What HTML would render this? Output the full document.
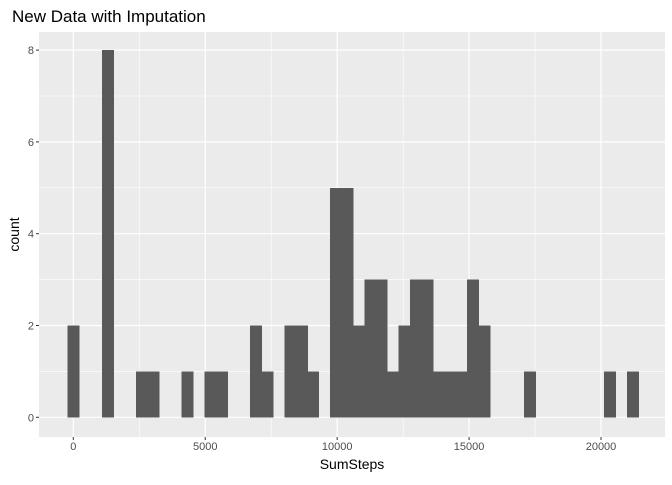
<!DOCTYPE html>
<html><head><meta charset="utf-8"><style>
body{margin:0;background:#fff;font-family:"Liberation Sans",Arial,sans-serif}
</style></head><body>
<svg id="c" width="672" height="480" xmlns="http://www.w3.org/2000/svg"></svg>
<script>
const binWidth = 432.5;
const binIndex = [0,3,6,7,10,12,13,16,17,19,20,21,23,24,25,26,27,28,29,30,31,32,33,34,35,36,40,47,49];
const counts   = [2,8,1,1,1,1,1,2,1,2,2,1,5,5,2,3,3,1,2,3,3,1,1,1,3,2,1,1,1];
const xTicks = [0,5000,10000,15000,20000];
const xTickLabels = ["0","5000","10000","15000","20000"];
const yTicks = [0,2,4,6,8];
const yTickLabels = ["0","2","4","6","8"];

const NS="http://www.w3.org/2000/svg", svg=document.getElementById('c');
const L=39,R=665,T=32,B=437;
const X=v=>73.3+v*0.026385;
const Y=v=>417.3-v*45.9;
function el(t,a,p){const e=document.createElementNS(NS,t);for(const k in a)e.setAttribute(k,a[k]);(p||svg).appendChild(e);return e;}
const panel=el('rect',{x:L,y:T,width:R-L,height:B-T,fill:'#ebebeb'});


const g=el('g',{});


for(let i=0;i<xTicks.length;i++){
  const m=xTicks[i]+2500;if(X(m)<R)el('line',{x1:X(m),x2:X(m),y1:T,y2:B,stroke:'#fff','stroke-width':0.6},g);
  el('line',{x1:X(xTicks[i]),x2:X(xTicks[i]),y1:T,y2:B,stroke:'#fff','stroke-width':1.2},g);
}
for(let i=0;i<yTicks.length;i++){
  const m=yTicks[i]+1; if(Y(m)>T)el('line',{x1:L,x2:R,y1:Y(m),y2:Y(m),stroke:'#fff','stroke-width':0.6},g);
  el('line',{x1:L,x2:R,y1:Y(yTicks[i]),y2:Y(yTicks[i]),stroke:'#fff','stroke-width':1.2},g);
}
const bars=el('g',{fill:'#595959','shape-rendering':'crispEdges'});


for(let i=0;i<binIndex.length;i++){
  const c=binIndex[i]*binWidth, x0=X(c-binWidth/2), x1=X(c+binWidth/2);
  const r=el('rect',{x:x0,y:Y(counts[i]),width:x1-x0+0.6,height:Y(0)-Y(counts[i])},bars);
  
  
}
for(let i=0;i<xTicks.length;i++){
  el('line',{x1:X(xTicks[i]),x2:X(xTicks[i]),y1:B,y2:B+3,stroke:'#333','stroke-width':1});
  const t=el('text',{x:X(xTicks[i]),y:B+13,'text-anchor':'middle','font-size':11,fill:'#4d4d4d'});
  t.textContent=xTickLabels[i];
  
  
}
for(let i=0;i<yTicks.length;i++){
  el('line',{x1:L-3,x2:L,y1:Y(yTicks[i]),y2:Y(yTicks[i]),stroke:'#333','stroke-width':1});
  const t=el('text',{x:L-5,y:Y(yTicks[i])+4,'text-anchor':'end','font-size':11,fill:'#4d4d4d'});
  t.textContent=yTickLabels[i];
  
  
}
const xt=el('text',{x:(L+R)/2,y:469,'text-anchor':'middle','font-size':14,fill:'#000'});
xt.textContent='SumSteps';


const yt=el('text',{x:0,y:0,'text-anchor':'middle','font-size':14,fill:'#000',transform:`translate(19,${(T+B)/2}) rotate(-90)`});
yt.textContent='count';


const tt=el('text',{x:12,y:22,'font-size':17,fill:'#000'});
tt.textContent='New Data with Imputation';


</script>
</body></html>
